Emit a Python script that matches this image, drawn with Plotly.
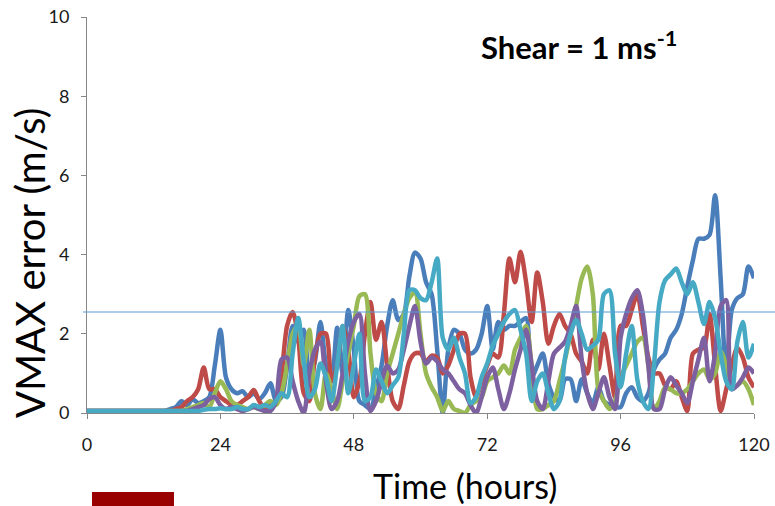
import plotly.graph_objects as go

# Hourly forecast times (hours)
hours = list(range(0, 121))

# VMAX error (m/s) for five ensemble runs, one value per hour
run_blue = [0.05] * 15 + [
    0.1, 0.15, 0.3, 0.2, 0.35, 0.25, 0.3, 0.4, 1.2, 2.1,
    0.9, 0.6, 0.5, 0.55, 0.4, 0.5, 0.35, 0.5, 0.75, 0.3,
    0.4, 1.2, 2.2, 1.8, 2.1, 0.9, 1.3, 2.3, 1.2, 0.8,
    2.15, 1.0, 2.6, 1.6, 0.3, 0.2, 0.1, 0.6, 1.2, 2.2,
    2.85, 2.35, 2.5, 3.45, 4.05, 3.9, 3.3, 3.0, 1.6, 0.0,
    1.6, 2.1, 2.0, 1.6, 1.5, 1.6, 2.0, 2.7, 1.6, 2.3,
    2.1, 2.2, 2.2, 2.3, 2.4, 0.9, 1.2, 1.5, 0.75, 0.4,
    0.3, 0.85, 0.85, 0.3, 0.85, 0.5, 0.25, 0.65, 0.3, 0.2,
    0.15, 0.15, 0.5, 0.65, 0.4, 0.3, 0.5, 1.1, 1.35, 1.5,
    1.9, 2.1, 2.5, 3.2, 3.85, 4.4, 4.4, 4.5, 5.5, 3.4,
    1.0, 2.6, 2.9, 3.0, 3.7, 3.4,
]
run_red = [0.05] * 16 + [
    0.1, 0.15, 0.3, 0.4, 0.6, 1.15, 0.6, 0.6, 0.4,
    0.3, 0.2, 0.2, 0.3, 0.4, 0.58, 0.3, 0.1, 0.2, 0.3,
    1.0, 2.2, 2.55, 1.9, 0.5, 0.3, 1.4, 2.0, 2.0, 0.8,
    1.2, 2.2, 1.6, 0.4, 0.8, 2.0, 2.8, 1.85, 2.3, 1.2,
    0.3, 0.1, 0.7, 1.3, 1.5, 1.5, 1.3, 1.45, 1.4, 1.0,
    1.2, 1.6, 2.0, 2.0, 0.9, 0.4, 0.8, 1.2, 1.5, 1.4,
    2.5, 3.9, 3.3, 4.07, 3.3, 2.3, 3.55, 2.8, 1.75, 2.2,
    2.5, 2.2, 2.0, 1.5, 1.3, 1.0, 1.85, 1.1, 2.0, 1.2,
    0.4, 2.2, 2.2, 2.6, 3.0, 2.2, 1.4, 1.0, 1.0, 0.7,
    0.6, 0.8, 0.4, 0.05, 1.5, 1.6, 1.65, 2.5, 1.2, 0.05,
    0.6, 1.2, 1.65, 1.4, 0.9, 0.65,
]
run_green = [0.05] * 18 + [
    0.1, 0.15, 0.2, 0.25, 0.15, 0.5, 0.8,
    0.6, 0.3, 0.2, 0.15, 0.1, 0.15, 0.1, 0.2, 0.3, 0.2,
    0.5, 1.2, 2.0, 2.2, 1.2, 2.1, 0.5, 0.1, 1.0, 0.6,
    0.1, 0.8, 1.5, 2.2, 2.95, 3.0, 1.5, 0.5, 0.3, 1.0,
    1.5, 2.0, 2.5, 2.9, 3.05, 2.0, 1.0, 0.65, 0.4, 0.05,
    0.3, 0.1, 0.05, 0.0, 0.2, 0.3, 0.4, 0.8, 0.9, 1.0,
    1.2, 1.0, 1.6, 1.9, 2.2, 1.2, 0.1, 0.1, 0.2, 0.3,
    0.8, 1.35, 2.0, 2.7, 3.4, 3.7, 3.0, 0.6, 0.3, 0.1,
    0.3, 0.9, 1.2, 1.5, 1.8, 1.9, 1.2, 0.1, 0.3, 0.65,
    0.6, 0.5, 0.5, 0.6, 0.8, 1.0, 1.1, 0.85, 1.0, 1.55,
    1.2, 0.65, 0.7, 0.8, 0.6, 0.2,
]
run_purple = [0.05] * 19 + [
    0.1, 0.15, 0.2, 0.35, 0.4, 0.2,
    0.1, 0.15, 0.1, 0.05, 0.1, 0.15, 0.1, 0.05, 0.05, 0.3,
    1.35, 1.4, 0.8, 0.3, 0.0, 1.0, 1.6, 1.8, 0.8, 0.1,
    0.3, 1.0, 1.8, 2.3, 2.5, 1.0, 0.05, 0.3, 0.8, 1.2,
    1.0, 1.1, 1.6, 2.2, 2.7, 1.8, 1.25, 1.4, 1.3, 1.1,
    1.0, 0.8, 0.6, 0.5, 0.2, 0.0, 0.4, 0.9, 1.15, 0.6,
    0.1, 0.5, 1.1, 1.6, 2.1, 1.2, 0.3, 0.1, 0.8, 1.5,
    1.65, 1.8, 2.2, 2.7, 1.35, 0.5, 0.1, 0.5, 0.9, 0.4,
    0.1, 1.9, 2.5, 2.9, 3.1, 2.5, 1.2, 0.1, 0.1, 0.6,
    0.9, 0.7, 0.5, 0.25, 0.8, 1.35, 1.9, 0.8, 1.5, 2.7,
    2.85, 0.6, 0.7, 0.9, 1.15, 1.0,
]
run_cyan = [0.05] * 21 + [
    0.08, 0.1, 0.1, 0.12,
    0.1, 0.1, 0.15, 0.1, 0.1, 0.2, 0.15, 0.2, 0.15, 0.3,
    0.5, 0.4, 1.5, 2.4, 1.3, 0.4, 0.6, 1.25, 0.9, 0.3,
    1.2, 2.2, 0.5, 1.2, 2.0, 0.3, 0.4, 1.1, 0.8, 0.5,
    0.7, 0.9, 2.0, 3.1, 3.1, 2.9, 2.85, 3.3, 3.9, 1.9,
    1.6, 1.9, 1.4, 1.0, 0.25, 0.4, 0.9, 1.25, 1.7, 2.0,
    2.3, 2.5, 2.6, 2.1, 1.5, 0.3, 0.8, 1.0, 0.5, 0.1,
    0.3, 1.4, 2.0, 2.35, 2.0, 1.6, 1.7, 1.85, 3.0, 3.1,
    1.5, 0.65, 1.5, 2.2, 0.85, 0.3, 0.1, 1.2, 2.8, 3.35,
    3.5, 3.65, 3.3, 3.0, 3.3, 2.8, 2.25, 2.8, 2.4, 1.5,
    0.8, 0.6, 1.8, 2.3, 1.4, 1.75,
]

# Reference level drawn across the plot
threshold = 2.55

x_ticks = [0, 24, 48, 72, 96, 120]
y_ticks = [0, 2, 4, 6, 8, 10]

series = [
    (run_blue, "#4a7ebb"),
    (run_red, "#be4b48"),
    (run_green, "#98b954"),
    (run_purple, "#7d60a0"),
    (run_cyan, "#46aac5"),
]

fig = go.Figure()
for values, color in series:
    fig.add_trace(go.Scatter(
        x=hours, y=values, mode="lines",
        line=dict(color=color, width=4.5, shape="spline", smoothing=0.8),
        showlegend=False, hoverinfo="skip",
    ))

font_family = "Lato, 'Open Sans', sans-serif"
axis_color = "#868686"
text_color = "#1a1a1a"

axis_common = dict(
    showgrid=False, zeroline=False, showline=True, linecolor=axis_color,
    linewidth=1, ticks="outside", ticklen=5, tickcolor=axis_color,
    tickfont=dict(size=18, family=font_family, color=text_color),
    automargin=False,
)

fig.update_layout(
    template="none",
    width=775, height=506,
    margin=dict(l=87, r=21, t=17, b=93, pad=0),
    paper_bgcolor="white", plot_bgcolor="white",
    font=dict(family=font_family, color=text_color),
    showlegend=False,
    xaxis=dict(range=[0, 120], tickvals=x_ticks,
               ticktext=[str(v) for v in x_ticks],
               ticklabelstandoff=10, **axis_common),
    yaxis=dict(range=[0, 10], tickvals=y_ticks,
               ticktext=[str(v) for v in y_ticks],
               ticklabelstandoff=8, **axis_common),
)

# Horizontal reference line
fig.add_shape(
    type="line", xref="paper", yref="y",
    x0=-0.006, x1=1.035, y0=threshold, y1=threshold,
    line=dict(color="#5b9bd5", width=1.2), layer="above",
)

# Dark red bar under the axis
fig.add_shape(
    type="rect", xref="paper", yref="paper",
    x0=0.0075, x1=0.1304, y0=-0.235, y1=-0.1995,
    fillcolor="#990000", line=dict(width=0),
)

fig.add_annotation(
    text="<b>Shear = 1 ms<sup>-1</sup></b>", xref="paper", yref="paper",
    x=0.7376, y=0.929, xanchor="center", yanchor="middle", showarrow=False,
    font=dict(size=31, family=font_family, color="#000000"),
)
fig.add_annotation(
    text="Time (hours)", xref="paper", yref="paper",
    x=0.567, y=-0.184, xanchor="center", yanchor="middle", showarrow=False,
    font=dict(size=34, family=font_family, color="#000000"),
)
fig.add_annotation(
    text="VMAX error (m/s)", xref="paper", yref="paper",
    x=-0.0855, y=0.381, xanchor="center", yanchor="middle",
    textangle=-90, showarrow=False,
    font=dict(size=40, family=font_family, color="#000000"),
)

fig.write_html("out.html")
